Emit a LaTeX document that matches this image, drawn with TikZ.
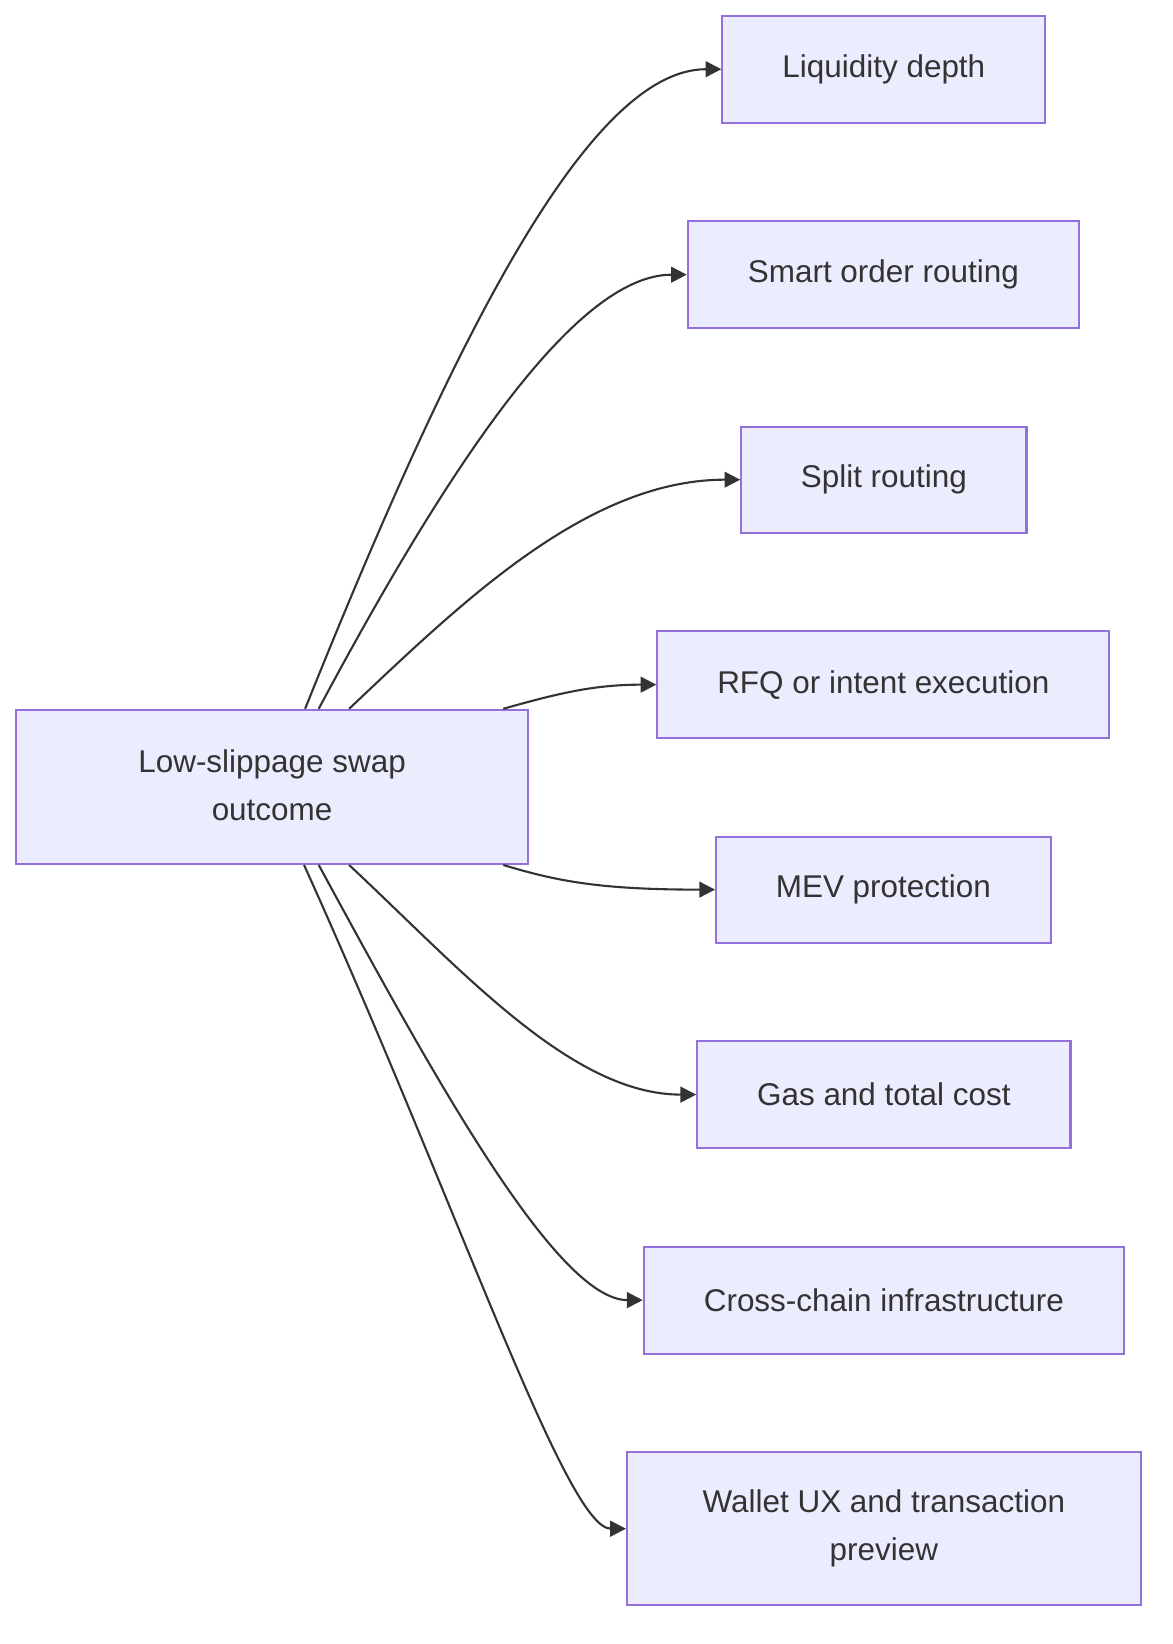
\documentclass[tikz,border=0pt]{standalone}
\usepackage{fontspec}
\setmainfont{Liberation Sans}
\usetikzlibrary{arrows.meta,calc}
\definecolor{boxfill}{HTML}{ECECFF}
\definecolor{boxline}{HTML}{9370DB}
\definecolor{ink}{HTML}{333333}
\begin{document}
\begin{tikzpicture}[x=0.5pt,y=-0.5pt,
  box/.style={draw=boxline, fill=boxfill, line width=1pt, inner sep=0pt,
    text=ink, font=\fontsize{15}{23}\selectfont, align=center},
  link/.style={draw=ink, line width=1pt, -{Triangle[length=7.5pt,width=7.5pt]}}]
\fill[white] (0,0) rectangle (1118,1568);
\useasboundingbox (0,0) rectangle (1118,1568);

\node[box, minimum width=244.5pt, minimum height=73.5pt] (main) at (259.5,750.5) {\raisebox{1.5pt}{\begin{tabular}{@{}c@{}}Low-slippage swap\\[0pt]outcome\end{tabular}}};

\node[box, minimum width=154pt, minimum height=51pt] (n1) at (843,66) {Liquidity depth};
\node[box, minimum width=186.5pt, minimum height=51pt] (n2) at (842.5,262) {Smart order routing};
\node[box, minimum width=136pt, minimum height=50.5pt] (n3) at (843,457.5) {Split routing};
\node[box, minimum width=215.5pt, minimum height=51pt] (n4) at (842.5,653) {RFQ or intent execution};
\node[box, minimum width=159.5pt, minimum height=50.5pt] (n5) at (842.5,848.5) {MEV protection};
\node[box, minimum width=178pt, minimum height=51pt] (n6) at (843,1044) {Gas and total cost};
\node[box, minimum width=229pt, minimum height=51pt] (n7) at (843,1240) {Cross-chain infrastructure};
\node[box, minimum width=245pt, minimum height=73pt] (n8) at (843,1458) {Wallet UX and transaction\\preview};

\coordinate (t1) at ($(main.north)+(31.5,0)$);
\coordinate (t2) at ($(main.north)+(44.5,0)$);
\coordinate (t3) at ($(main.north)+(73.5,0)$);
\coordinate (t4) at ($(main.north)+(220.5,0)$);
\coordinate (b5) at ($(main.south)+(220.5,0)$);
\coordinate (b6) at ($(main.south)+(73.5,0)$);
\coordinate (b7) at ($(main.south)+(44.5,0)$);
\coordinate (b8) at ($(main.south)+(30.5,0)$);

\draw[link] (t1) .. controls (430,330) and (560,66) .. (n1.west);
\draw[link] (t2) .. controls (430,440) and (550,262) .. (n2.west);
\draw[link] (t3) .. controls (440,575) and (560,457.5) .. (n3.west);
\draw[link] (t4) .. controls (530,662) and (565,653) .. (n4.west);
\draw[link] (b5) .. controls (530,840) and (570,848.5) .. (n5.west);
\draw[link] (b6) .. controls (440,925) and (545,1044) .. (n6.west);
\draw[link] (b7) .. controls (410,1020) and (530,1240) .. (n7.west);
\draw[link] (b8) .. controls (437,1150) and (540,1458) .. (n8.west);
\end{tikzpicture}
\end{document}
